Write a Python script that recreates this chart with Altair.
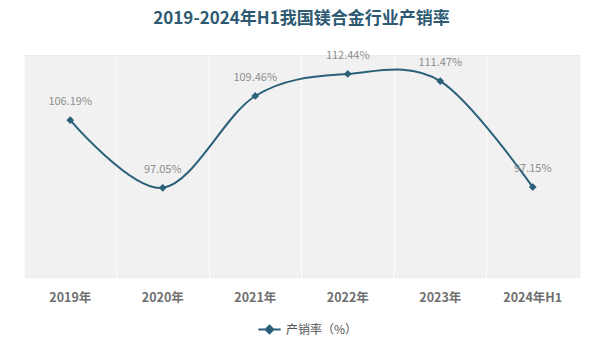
import altair as alt
import pandas as pd

years = ["2019年", "2020年", "2021年", "2022年", "2023年", "2024年H1"]
rates = [106.19, 97.05, 109.46, 112.44, 111.47, 97.15]
series = "产销率（%）"

df = pd.DataFrame({"year": years, "rate": rates, "series": [series] * len(years)})
df["label"] = df["rate"].map(lambda v: f"{v:.2f}%")

FONT = "Noto Sans CJK SC"
LINE = "#2b607a"

x = alt.X("year:N", sort=years, title=None,
          scale=alt.Scale(type="band", paddingInner=0, paddingOuter=0),
          axis=alt.Axis(labelAngle=0, labelColor="#707070", labelFontSize=12.5,
                        labelFontWeight="bold", labelFont=FONT, labelPadding=14,
                        domain=False, ticks=False, grid=True, gridColor="#fbfbfb",
                        gridWidth=1, bandPosition=0))
y = alt.Y("rate:Q", title=None, scale=alt.Scale(domain=[85, 115]), axis=None)

line = alt.Chart(df).mark_line(interpolate="cardinal", color=LINE, strokeWidth=2).encode(
    x=x, y=y,
    stroke=alt.Stroke("series:N", title=None,
                      scale=alt.Scale(range=[LINE]),
                      legend=alt.Legend(orient="none", legendX=233, legendY=262,
                                        symbolType="M-1,0L1,0M0,-0.35L0.35,0L0,0.35L-0.35,0Z",
                                        symbolFillColor=LINE, symbolStrokeColor=LINE,
                                        symbolStrokeWidth=2, symbolSize=500,
                                        labelFont=FONT, labelFontSize=12, labelColor="#555555")),
)
pts = alt.Chart(df).mark_point(shape="diamond", filled=True, color=LINE, size=60, opacity=1).encode(x=x, y=y)
labels = alt.Chart(df).mark_text(dy=-18, fontSize=11, color="#8e8e8e", font=FONT).encode(
    x=x, y=y, text="label:N")

chart = (line + pts + labels).properties(
    width=555, height=222,
    title=alt.TitleParams("2019-2024年H1我国镁合金行业产销率", font=FONT, fontSize=17,
                          fontWeight="bold", color="#2d5a72", anchor="middle", offset=22),
    autosize=alt.AutoSizeParams(type="none"),
    padding={"left": 24, "top": 55, "right": 21, "bottom": 76},
    background="#ffffff",
).configure_view(fill="#f1f1f1", stroke="#dddddd", strokeDash=[2, 2])

chart.save("out.html", embed_options={"renderer": "svg", "actions": False})
